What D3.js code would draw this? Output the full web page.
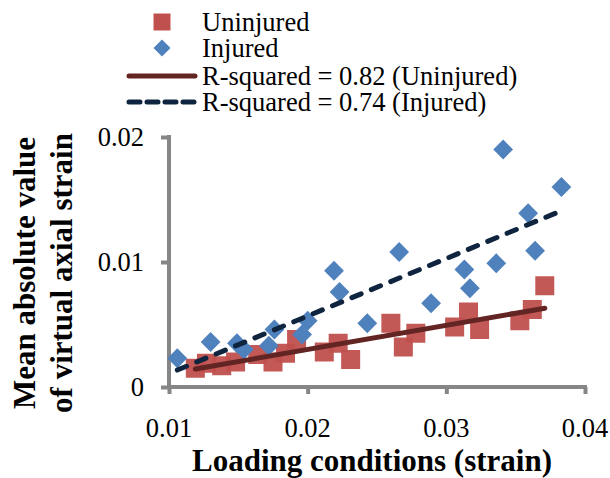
<!DOCTYPE html>
<html lang="en">
<head>
  <meta charset="UTF-8" />
  <title>Virtual axial strain vs loading</title>
  <script src="https://d3js.org/d3.v7.min.js"></script>
  <style>
    body {
      margin: 0;
      background: #fff;
    }

    svg text {
      font-family: "Liberation Serif", "Times New Roman", serif;
      fill: #000;
    }

    .axis-label {
      font-weight: bold;
      font-size: 31px;
    }

    .tick-label {
      font-size: 26.5px;
    }
  </style>
</head>
<body>
  <script>
    // Uninjured samples (loading strain, mean abs virtual axial strain)
    var uninjuredX = [0.0119, 0.0127, 0.0138, 0.0148, 0.0164, 0.0175, 0.0184, 0.0192, 0.0212, 0.0222,
      0.0231, 0.0260, 0.0269, 0.0278, 0.0306, 0.0316, 0.0324, 0.0353, 0.0362, 0.0371];
    var uninjuredY = [0.0015, 0.0019, 0.0017, 0.0020, 0.0026, 0.0020, 0.0027, 0.0038, 0.0028, 0.0035,
      0.0022, 0.0051, 0.0032, 0.0043, 0.0048, 0.0060, 0.0046, 0.0053, 0.0062, 0.0081];

    // Injured samples
    var injuredX = [0.0106, 0.0130, 0.0149, 0.0154, 0.0172, 0.0176, 0.0196, 0.0200, 0.0219, 0.0223,
      0.0243, 0.0266, 0.0289, 0.0313, 0.0317, 0.0336, 0.0341, 0.0359, 0.0364, 0.0383];
    var injuredY = [0.0023, 0.0036, 0.0035, 0.0030, 0.0033, 0.0046, 0.0042, 0.0053, 0.0093, 0.0076,
      0.0051, 0.0108, 0.0067, 0.0094, 0.0079, 0.0099, 0.0190, 0.0139, 0.0109, 0.0160];

    // linear trendlines [slope, intercept]
    var uninjuredFit = [0.193, -0.00086];
    var injuredFit = [0.46, -0.00352];

    var xTicks = [0.01, 0.02, 0.03, 0.04];
    var yTicks = [0, 0.01, 0.02];

    var legendLabels = ["Uninjured", "Injured", "R-squared = 0.82 (Uninjured)", "R-squared = 0.74 (Injured)"];

    var red = "#C0504D", blue = "#4F81BD", redLine = "#632523", blueLine = "#0F243E", axisGray = "#868686";

    var width = 610, height = 478;
    var svg = d3.select("body").append("svg")
      .attr("width", width)
      .attr("height", height);

    var x = d3.scaleLinear().domain([0.01, 0.04]).range([169, 585]);
    var y = d3.scaleLinear().domain([0, 0.02]).range([387, 137]);

    // axes
    var xAxis = svg.append("g")
      .attr("transform", "translate(0," + y(0) + ")")
      .call(d3.axisBottom(x).tickValues(xTicks).tickSize(7).tickFormat(""));
    var yAxis = svg.append("g")
      .attr("transform", "translate(" + x(0.01) + ",0)")
      .call(d3.axisLeft(y).tickValues(yTicks).tickSize(8).tickFormat(""));

    [xAxis, yAxis].forEach(function (g) {
      g.select(".domain").attr("stroke", axisGray).attr("stroke-width", 4);
      g.selectAll(".tick line").attr("stroke", axisGray).attr("stroke-width", 4);
    });
    xAxis.select(".domain").attr("d", "M" + (x(0.01) - 2) + ",0H" + (x(0.04) + 2));
    yAxis.select(".domain").attr("d", "M0," + (y(0.02) - 2) + "V" + (y(0) + 2));

    // tick labels
    svg.selectAll(".xlab").data(xTicks).enter().append("text")
      .attr("class", "tick-label")
      .attr("x", function (d) { return x(d); })
      .attr("y", 437)
      .attr("text-anchor", "middle")
      .text(function (d) { return d3.format(".2f")(d); });

    svg.selectAll(".ylab").data(yTicks).enter().append("text")
      .attr("class", "tick-label")
      .attr("x", 144)
      .attr("y", function (d) { return y(d) + 9; })
      .attr("text-anchor", "end")
      .text(function (d) { return d === 0 ? "0" : d3.format(".2f")(d); });

    // axis titles
    svg.append("text")
      .attr("class", "axis-label")
      .attr("x", 372)
      .attr("y", 471)
      .attr("text-anchor", "middle")
      .text("Loading conditions (strain)");

    var yTitle = svg.append("text")
      .attr("class", "axis-label")
      .attr("transform", "translate(0,273) rotate(-90)")
      .attr("text-anchor", "middle");
    yTitle.append("tspan").attr("x", 0).attr("y", 35).text("Mean absolute value");
    yTitle.append("tspan").attr("x", 0).attr("y", 72).text("of virtual axial strain");

    // markers
    var square = d3.symbol().type(d3.symbolSquare).size(19 * 19);
    var diamond = d3.symbol().type(d3.symbolSquare).size(14 * 14);

    svg.append("g").selectAll("path")
      .data(uninjuredX.map(function (d, i) { return [d, uninjuredY[i]]; }))
      .enter().append("path")
      .attr("d", square)
      .attr("transform", function (d) { return "translate(" + x(d[0]) + "," + y(d[1]) + ")"; })
      .attr("fill", red)
      .attr("fill-opacity", 0.95);

    svg.append("g").selectAll("path")
      .data(injuredX.map(function (d, i) { return [d, injuredY[i]]; }))
      .enter().append("path")
      .attr("d", diamond)
      .attr("transform", function (d) { return "translate(" + x(d[0]) + "," + y(d[1]) + ") rotate(45)"; })
      .attr("fill", blue);

    // trendlines
    var line = d3.line().x(function (d) { return x(d[0]); }).y(function (d) { return y(d[1]); });
    function fitPts(fit, xs) {
      var ext = d3.extent(xs);
      return ext.map(function (v) { return [v, fit[0] * v + fit[1]]; });
    }

    svg.append("path")
      .datum(fitPts(uninjuredFit, uninjuredX))
      .attr("d", line)
      .attr("fill", "none")
      .attr("stroke", redLine)
      .attr("stroke-width", 5)
      .attr("stroke-linecap", "round");

    svg.append("path")
      .datum(fitPts(injuredFit, injuredX))
      .attr("d", line)
      .attr("fill", "none")
      .attr("stroke", blueLine)
      .attr("stroke-width", 5)
      .attr("stroke-linecap", "round")
      .attr("stroke-dasharray", "10,11");

    // legend
    var legend = svg.append("g");
    var rowY = [22, 48, 76, 102];

    legend.append("path")
      .attr("d", d3.symbol().type(d3.symbolSquare).size(17 * 17))
      .attr("transform", "translate(162," + rowY[0] + ")")
      .attr("fill", red);
    legend.append("path")
      .attr("d", d3.symbol().type(d3.symbolSquare).size(12 * 12))
      .attr("transform", "translate(162," + rowY[1] + ") rotate(45)")
      .attr("fill", blue);
    legend.append("line")
      .attr("x1", 129).attr("x2", 195)
      .attr("y1", rowY[2]).attr("y2", rowY[2])
      .attr("stroke", redLine).attr("stroke-width", 5).attr("stroke-linecap", "round");
    legend.append("line")
      .attr("x1", 129).attr("x2", 197)
      .attr("y1", rowY[3]).attr("y2", rowY[3])
      .attr("stroke", blueLine).attr("stroke-width", 5).attr("stroke-linecap", "round")
      .attr("stroke-dasharray", "11,7");

    legend.selectAll("text").data(legendLabels).enter().append("text")
      .attr("class", "tick-label")
      .attr("x", 202)
      .attr("y", function (d, i) { return rowY[i] + 9; })
      .text(function (d) { return d; });
  </script>
</body>
</html>
